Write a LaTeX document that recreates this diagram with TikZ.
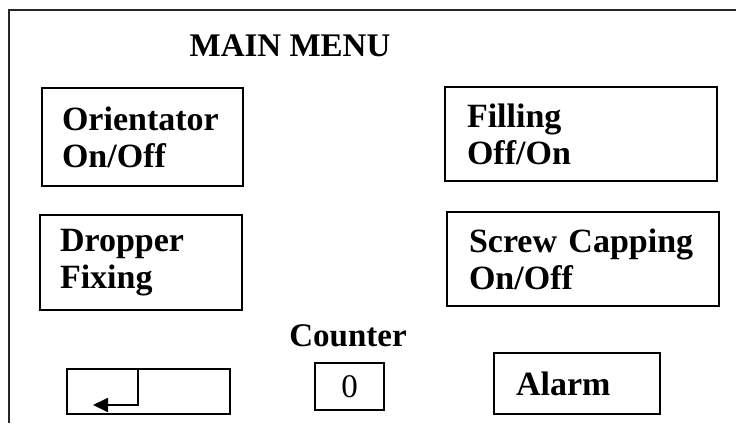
\documentclass[tikz,border=0pt]{standalone}
\usepackage{fontspec}
\setmainfont{Liberation Serif}
\usetikzlibrary{arrows.meta, positioning}

\begin{document}
\begin{tikzpicture}[x=1pt, y=-1pt,
        % Button styles
        menu box/.style={
                draw, rectangle, line width=1.8pt, inner ysep=0pt,
                align=left, font=\bfseries\fontsize{34}{37}\selectfont,
            },
        wide box/.style={
                menu box, inner xsep=22pt, text width=228pt, minimum height=94pt,
            },
        % Labels without a frame
        menu label/.style={
                font=\bfseries\fontsize{33}{37}\selectfont,
            },
        % Frame of the screen
        frame line/.style={
                draw=black!85, line width=2pt,
            },
    ]
    \useasboundingbox (0,0) rectangle (736,423);

    % --- Screen frame (open to the right and bottom) ---
    \coordinate (frame tr) at (736,10);
    \coordinate (frame tl) at (9,10);
    \coordinate (frame bl) at (9,423);
    \draw[frame line] (frame tr) -- (frame tl) -- (frame bl);

    \node[menu label] (title) at (290,46) {MAIN MENU};

    % --- Menu buttons ---
    \node[menu box, inner xsep=20pt, text width=161pt, minimum height=98pt]
        (orientator) at (142.5,137) {Orientator\\On/Off};
    \node[wide box] (filling) at (581,134) {Filling\\Off/On};
    \node[menu box, inner xsep=20pt, text width=162pt, minimum height=95pt]
        (dropper) at (141,262.5) {Dropper\\Fixing};
    \node[wide box] (capping) at (583,259) {Screw Capping\\On/Off};

    % --- Bottom row ---
    \node[menu label] (counter label) at (348,336) {Counter};
    \node[draw, rectangle, line width=1.8pt, minimum width=69pt, minimum height=47pt,
        font=\fontsize{33}{37}\selectfont] (counter) at (349.5,386.5) {0};
    \node[menu box, inner xsep=22pt, text width=122pt, minimum height=61pt]
        (alarm) at (577,383.5) {Alarm};
    \node[draw, rectangle, line width=1.8pt, minimum width=163pt, minimum height=45pt]
        (enter) at (148.5,391.5) {};

    % Return arrow inside the enter key
    \coordinate (stem) at (138,405);
    \coordinate (tip) at (93,405);
    \draw[line width=1.8pt, -{Triangle[length=15pt, width=14pt]}]
        (enter.north -| stem) -- (stem) -- (tip);
\end{tikzpicture}
\end{document}
